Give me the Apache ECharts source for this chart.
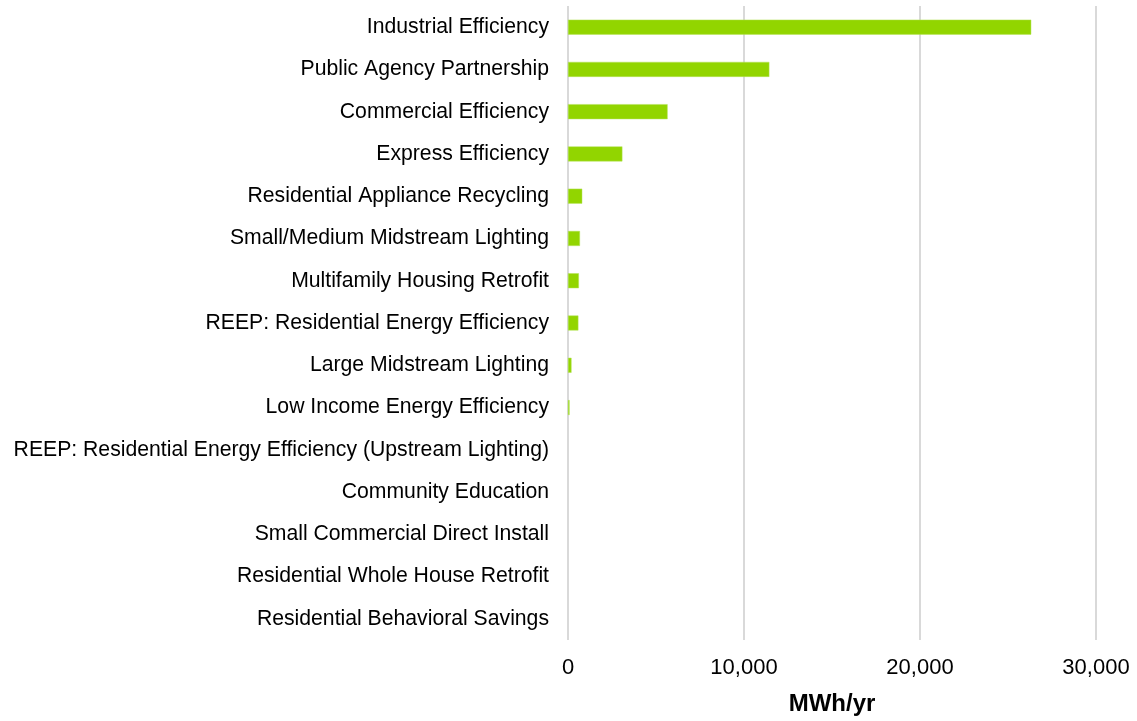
<!DOCTYPE html>
<html>
<head>
<meta charset="utf-8">
<script src="https://cdn.jsdelivr.net/npm/echarts@6/dist/echarts.min.js"></script>
<style>
html,body{margin:0;padding:0;background:#fff;}
#chart{width:1137px;height:721px;}
</style>
</head>
<body>
<div id="chart"></div>
<script>
const categories = [
  "Industrial Efficiency",
  "Public Agency Partnership",
  "Commercial Efficiency",
  "Express Efficiency",
  "Residential Appliance Recycling",
  "Small/Medium Midstream Lighting",
  "Multifamily Housing Retrofit",
  "REEP: Residential Energy Efficiency",
  "Large Midstream Lighting",
  "Low Income Energy Efficiency",
  "REEP: Residential Energy Efficiency (Upstream Lighting)",
  "Community Education",
  "Small Commercial Direct Install",
  "Residential Whole House Retrofit",
  "Residential Behavioral Savings"
];
const savings = [26320, 11440, 5660, 3090, 810, 680, 620, 590, 200, 90, 0, 0, 0, 0, 0];
const xTicks = [0, 10000, 20000, 30000];
const axisName = "MWh/yr";

const chart = echarts.init(document.getElementById('chart'), null, {renderer: 'canvas'});
chart.setOption({
  animation: false,
  backgroundColor: '#ffffff',
  grid: {left: 568, right: 41, top: 6, bottom: 81, containLabel: false},
  xAxis: {
    type: 'value',
    min: xTicks[0],
    max: xTicks[xTicks.length - 1],
    interval: xTicks[1] - xTicks[0],
    name: axisName,
    nameLocation: 'middle',
    nameGap: 52,
    nameTextStyle: {fontFamily: 'Liberation Sans, Arial, sans-serif', fontSize: 24, fontWeight: 'bold', color: '#000'},
    axisLine: {show: false},
    axisTick: {show: false},
    axisLabel: {
      fontFamily: 'Liberation Sans, Arial, sans-serif',
      fontSize: 22,
      color: '#000',
      margin: 17,
      formatter: v => v.toLocaleString('en-US')
    },
    splitLine: {show: true, lineStyle: {color: '#d9d9d9', width: 2}}
  },
  yAxis: {
    type: 'category',
    data: categories,
    inverse: true,
    axisLine: {show: false},
    axisTick: {show: false},
    axisLabel: {
      fontFamily: 'Liberation Sans, Arial, sans-serif',
      fontSize: 21.2,
      color: '#000',
      margin: 19
    },
    splitLine: {show: false}
  },
  series: [{
    type: 'bar',
    data: savings.map(v => ({value: v, itemStyle: {borderWidth: v > 0 ? 0.5 : 0}})),
    barWidth: 15,
    itemStyle: {color: '#92d500', borderColor: '#b5e35a'}
  }]
});
</script>
</body>
</html>
